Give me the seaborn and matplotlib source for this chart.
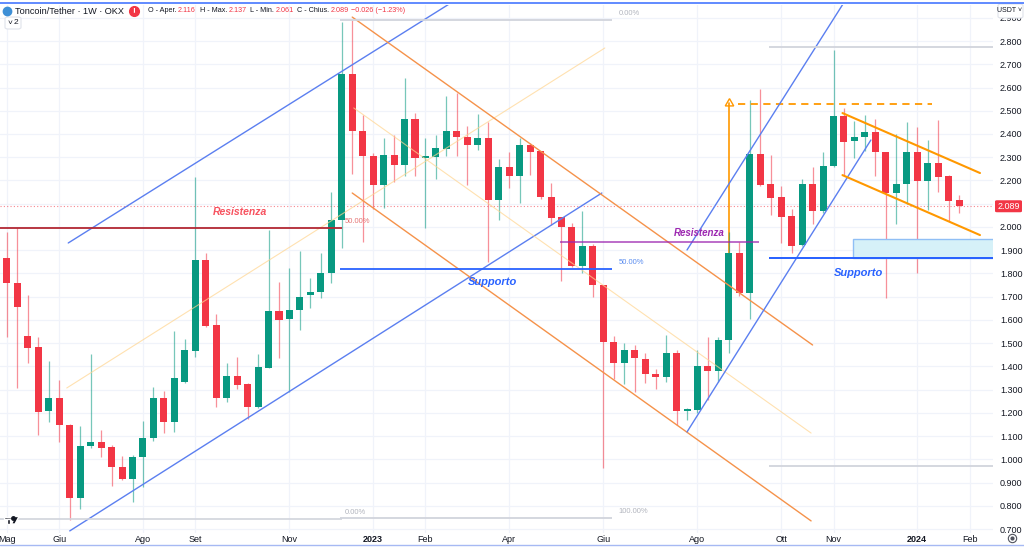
import matplotlib
matplotlib.use("Agg")
import matplotlib.pyplot as plt
import numpy as np
import pandas as pd
import seaborn as sns
from matplotlib.patches import Rectangle, FancyBboxPatch
from matplotlib.lines import Line2D

# candele settimanali TON/USDT (OKX), dal 2 maggio 2022
first_week = "2022-05-02"
opens = [1.866, 1.759, 1.531, 1.483, 1.209, 1.264, 1.148, 0.834, 1.057, 1.075,
         1.053, 0.967, 0.915, 1.010, 1.092, 1.264, 1.161, 1.333, 1.466, 1.858,
         1.578, 1.264, 1.359, 1.324, 1.225, 1.393, 1.638, 1.604, 1.642, 1.707,
         1.720, 1.802, 2.030, 2.658, 2.413, 2.305, 2.180, 2.309, 2.266, 2.464,
         2.297, 2.301, 2.335, 2.413, 2.387, 2.352, 2.383, 2.116, 2.258, 2.219,
         2.352, 2.327, 2.129, 2.043, 2.000, 1.832, 1.918, 1.750, 1.505, 1.414,
         1.470, 1.432, 1.367, 1.354, 1.457, 1.208, 1.212, 1.402, 1.380, 1.513,
         1.888, 1.716, 2.314, 2.185, 2.129, 2.047, 1.922, 2.185, 2.068, 2.262,
         2.477, 2.370, 2.387, 2.408, 2.322, 2.146, 2.185, 2.322, 2.198, 2.275,
         2.219, 2.116]
highs = [1.978, 1.995, 1.707, 1.526, 1.423, 1.341, 1.150, 1.143, 1.453, 1.126,
         1.062, 1.014, 1.019, 1.165, 1.311, 1.294, 1.552, 1.518, 2.215, 1.888,
         1.625, 1.414, 1.440, 1.328, 1.453, 1.987, 1.763, 1.823, 1.896, 1.780,
         1.888, 2.150, 2.880, 2.890, 2.482, 2.318, 2.383, 2.396, 2.641, 2.490,
         2.383, 2.396, 2.563, 2.576, 2.434, 2.486, 2.451, 2.292, 2.322, 2.383,
         2.361, 2.327, 2.189, 2.043, 2.017, 2.068, 1.927, 1.750, 1.531, 1.500,
         1.492, 1.457, 1.389, 1.535, 1.470, 1.221, 1.470, 1.526, 1.526, 1.978,
         1.935, 2.546, 2.593, 2.309, 2.176, 2.077, 2.206, 2.258, 2.322, 2.761,
         2.512, 2.456, 2.482, 2.464, 2.322, 2.400, 2.451, 2.430, 2.374, 2.460,
         2.223, 2.137]
lows = [1.526, 1.307, 1.414, 1.105, 1.161, 1.075, 0.739, 0.786, 1.049, 1.010,
        0.885, 0.911, 0.816, 0.881, 1.079, 1.113, 1.118, 1.330, 1.440, 1.569,
        1.225, 1.247, 1.303, 1.174, 1.221, 1.393, 1.436, 1.290, 1.556, 1.651,
        1.694, 1.759, 1.909, 2.228, 1.935, 2.077, 2.081, 2.193, 2.219, 2.219,
        1.995, 2.206, 2.305, 2.305, 2.180, 2.331, 1.849, 2.030, 2.167, 2.103,
        2.223, 2.120, 2.008, 1.767, 1.828, 1.802, 1.698, 0.963, 1.346, 1.324,
        1.290, 1.328, 1.303, 1.333, 1.148, 1.169, 1.199, 1.255, 1.333, 1.457,
        1.703, 1.604, 2.176, 2.051, 1.931, 1.888, 1.918, 2.013, 2.060, 2.258,
        2.219, 2.297, 2.327, 2.219, 1.694, 2.013, 2.099, 1.802, 2.073, 2.150,
        2.025, 2.061]
closes = [1.759, 1.655, 1.479, 1.204, 1.264, 1.148, 0.834, 1.057, 1.075, 1.049,
          0.967, 0.915, 1.010, 1.092, 1.264, 1.161, 1.350, 1.470, 1.858, 1.574,
          1.264, 1.359, 1.320, 1.225, 1.397, 1.638, 1.599, 1.642, 1.698, 1.720,
          1.802, 2.030, 2.658, 2.413, 2.305, 2.180, 2.309, 2.266, 2.464, 2.297,
          2.305, 2.340, 2.413, 2.387, 2.352, 2.383, 2.116, 2.258, 2.219, 2.352,
          2.322, 2.129, 2.038, 2.000, 1.832, 1.918, 1.750, 1.505, 1.414, 1.470,
          1.436, 1.367, 1.354, 1.457, 1.208, 1.217, 1.402, 1.380, 1.513, 1.888,
          1.716, 2.314, 2.180, 2.124, 2.043, 1.918, 2.185, 2.068, 2.262, 2.477,
          2.365, 2.387, 2.408, 2.322, 2.146, 2.185, 2.322, 2.198, 2.275, 2.215,
          2.112, 2.089]
last_price = 2.089

# asse prezzi e mesi
price_ticks = [0.7, 0.8, 0.9, 1.0, 1.1, 1.2, 1.3, 1.4, 1.5, 1.6, 1.7, 1.8,
               1.9, 2.0, 2.1, 2.2, 2.3, 2.4, 2.5, 2.6, 2.7, 2.8, 2.9]
month_dates = ["2022-05-02", "2022-06-06", "2022-08-01", "2022-09-05", "2022-11-07",
               "2023-01-02", "2023-02-06", "2023-04-03", "2023-06-05", "2023-08-07",
               "2023-10-02", "2023-11-06", "2024-01-01", "2024-02-05"]
month_labels = ["Mag", "Giu", "Ago", "Set", "Nov", "2023", "Feb", "Apr", "Giu",
                "Ago", "Ott", "Nov", "2024", "Feb"]

# trendline (data, prezzo)
blue_up_dates, blue_up_prices = ["2022-06-12", "2023-02-26"], [1.931, 2.976]
blue_dn_dates, blue_dn_prices = ["2022-06-13", "2023-06-04"], [0.692, 2.146]
blue_mid_dates, blue_mid_prices = ["2022-06-11", "2023-06-06"], [1.307, 2.770]
orng_up_dates, orng_up_prices = ["2022-12-19", "2023-10-23"], [2.903, 1.492]
orng_dn_dates, orng_dn_prices = ["2022-12-19", "2023-10-22"], [2.146, 0.735]
orng_mid_dates, orng_mid_prices = ["2022-12-20", "2023-10-22"], [2.512, 1.113]
blue2_up_dates, blue2_up_prices = ["2023-07-31", "2023-11-14"], [1.901, 2.976]
blue2_dn_dates, blue2_dn_prices = ["2023-07-31", "2023-12-01"], [1.118, 2.374]
flag_up_dates, flag_up_prices = ["2023-11-12", "2024-02-12"], [2.490, 2.232]
flag_dn_dates, flag_dn_prices = ["2023-11-12", "2024-02-12"], [2.223, 1.965]

# livelli orizzontali
left_fib_end = "2022-12-12"
left_resist = 1.995
left_fib_zero = 0.743
mid_fib_span = ["2022-12-11", "2023-06-11"]
mid_fib_levels = [2.890, 1.819, 0.748]
mid_resist_span = ["2023-05-07", "2023-09-17"]
mid_resist = 1.935
right_fib_start = "2023-09-24"
right_fib_levels = [2.774, 1.866, 0.971]
zone_start = "2023-11-19"
zone_prices = [1.866, 1.948]
target_date = "2023-08-28"
target_from, target_to = 1.888, 2.533
target_span = ["2023-09-03", "2024-01-11"]

# intestazione OHLC
ohlc_labels = ["O - Aper.", "H - Max.", "L - Min.", "C - Chius."]
ohlc_values = ["2.116", "2.137", "2.061", "2.089"]
change_text = "\u22120.026 (\u22121.23%)"

GREEN = "#089981"
RED = "#f23645"
W, H = 1024, 547
YMIN, YMAX = 0.683, 2.955

df = pd.DataFrame({"open": opens, "high": highs, "low": lows, "close": closes})
df["date"] = pd.date_range(first_week, periods=len(df), freq="7D")
df["up"] = df["close"] >= df["open"]
df["color"] = np.where(df["up"], GREEN, RED)
df["bottom"] = df[["open", "close"]].min(axis=1)
df["body"] = (df["close"] - df["open"]).abs().clip(lower=0.005)

sns.set_theme(style="white")
plt.rcParams["font.family"] = ["Liberation Sans", "DejaVu Sans"]

fig = plt.figure(figsize=(W / 100, H / 100), dpi=100)
ax = fig.add_axes([0, 14 / H, 993 / W, 528 / H])

xmin = pd.Timestamp("2022-04-27 08:00")
xmax = pd.Timestamp("2024-02-20 17:00")
ax.set_xlim(xmin, xmax)
ax.set_ylim(YMIN, YMAX)

# griglia
for d in month_dates:
    ax.axvline(pd.Timestamp(d), color="#f0f3fa", lw=0.9, zorder=0)
for p in price_ticks:
    ax.axhline(p, color="#f0f3fa", lw=0.9, zorder=0)

# candele
ax.vlines(df["date"], df["low"], df["high"], colors=df["color"], lw=0.9,
          alpha=0.55, zorder=2)
ax.bar(df["date"], df["body"], bottom=df["bottom"], width=4.7,
       color=df["color"], lw=0, zorder=3)

# freccia target (dietro le candele)
ax.plot([pd.Timestamp(target_date)] * 2, [target_from, target_to],
        color="#ff9800", lw=1.2, zorder=1)
ax.plot(pd.Timestamp(target_date), target_to, marker=(3, 0, 0), ms=7,
        mfc="none", mec="#ff9800", mew=1.0, zorder=1)
ax.plot(pd.to_datetime(target_span), [target_to - 0.004] * 2,
        color="#ff9800", lw=1.3, ls=(0, (4, 3)), zorder=4)


def trend(dates, prices, color, lw=1.0, alpha=1.0):
    sns.lineplot(x=pd.to_datetime(dates), y=prices, ax=ax, color=color,
                 lw=lw, alpha=alpha, zorder=4)


trend(blue_up_dates, blue_up_prices, "#5b7ff0")
trend(blue_dn_dates, blue_dn_prices, "#5b7ff0")
trend(blue_mid_dates, blue_mid_prices, "#ffd58f", lw=0.8, alpha=0.7)
trend(orng_up_dates, orng_up_prices, "#f5924a")
trend(orng_dn_dates, orng_dn_prices, "#f5924a")
trend(orng_mid_dates, orng_mid_prices, "#ffd58f", lw=0.8, alpha=0.7)
trend(blue2_up_dates, blue2_up_prices, "#5b7ff0")
trend(blue2_dn_dates, blue2_dn_prices, "#5b7ff0")
trend(flag_up_dates, flag_up_prices, "#ff9800", lw=1.5)
trend(flag_dn_dates, flag_dn_prices, "#ff9800", lw=1.5)

# livelli a sinistra
ax.hlines(left_resist, xmin, pd.Timestamp(left_fib_end), color="#b22833", lw=1.3, zorder=4)
ax.hlines(left_fib_zero, xmin, pd.Timestamp(left_fib_end), color="#d1d4dc", lw=1.2, zorder=4)
ax.text(pd.Timestamp(left_fib_end) + pd.Timedelta(days=2), left_resist + 0.012, "50.00%",
        color="#e57373", fontsize=5.5, ha="left", va="bottom", zorder=5)
ax.text(pd.Timestamp(left_fib_end) + pd.Timedelta(days=2), left_fib_zero + 0.012, "0.00%",
        color="#b2b5be", fontsize=5.5, ha="left", va="bottom", zorder=5)
ax.text(pd.Timestamp("2022-10-05"), 2.064, "Resistenza", color="#f7525f",
        fontsize=7.5, style="italic", weight="bold", ha="center", va="center", zorder=5)

# fib centrale
s0, s1 = pd.to_datetime(mid_fib_span)
fib_cols = ["#d1d4dc", "#2962ff", "#d1d4dc"]
fib_txt = ["0.00%", "50.00%", "100.00%"]
fib_tcol = ["#b2b5be", "#5b8def", "#b2b5be"]
for lvl, c, t, tc in zip(mid_fib_levels, fib_cols, fib_txt, fib_tcol):
    ax.hlines(lvl, s0, s1, color=c, lw=1.3, zorder=4)
    ax.text(s1 + pd.Timedelta(days=4), lvl + 0.012, t, color=tc, fontsize=5.5,
            ha="left", va="bottom", zorder=5)
ax.text(pd.Timestamp("2023-03-23"), 1.763, "Supporto", color="#2962ff",
        fontsize=8, style="italic", weight="bold", ha="center", va="center", zorder=5)

# resistenza viola
r0, r1 = pd.to_datetime(mid_resist_span)
ax.hlines(mid_resist, r0, r1, color="#9c27b0", lw=1.2, alpha=0.8, zorder=4)
ax.text(pd.Timestamp("2023-08-08"), 1.974, "Resistenza", color="#9c27b0",
        fontsize=7, style="italic", weight="bold", ha="center", va="center", zorder=5)

# fib a destra + zona
rf0 = pd.Timestamp(right_fib_start)
for lvl, c in zip(right_fib_levels, fib_cols):
    ax.hlines(lvl, rf0, xmax, color=c, lw=1.3, zorder=4)
z0 = pd.Timestamp(zone_start)
ax.add_patch(Rectangle((z0, zone_prices[0]), xmax - z0 + pd.Timedelta(days=5),
                       zone_prices[1] - zone_prices[0], facecolor="#d6f1f8",
                       edgecolor="#90bff5", lw=1.0, zorder=3))
ax.hlines(right_fib_levels[1], rf0, xmax, color="#2962ff", lw=1.3, zorder=4)
ax.text(pd.Timestamp("2023-11-23"), 1.802, "Supporto", color="#2962ff",
        fontsize=8, style="italic", weight="bold", ha="center", va="center", zorder=5)

# prezzo corrente
ax.axhline(last_price, color=RED, lw=0.8, ls=(0, (1, 2)), alpha=0.6, zorder=1)

# assi (l'etichetta 2.100 resta coperta dal cartellino del prezzo)
for sp in ax.spines.values():
    sp.set_visible(False)
ax.set_xlabel("")
ax.set_ylabel("")
ax.yaxis.tick_right()
ax.set_yticks(price_ticks)
ax.set_yticklabels(["" if abs(p - last_price) < 0.03 else f"{p:.3f}" for p in price_ticks])
ax.set_xticks(pd.to_datetime(month_dates))
ax.set_xticklabels(month_labels)
ax.tick_params(axis="y", length=0, pad=5, labelsize=6.5, labelcolor="#131722")
ax.tick_params(axis="x", length=0, pad=1.5, labelsize=6.5, labelcolor="#131722")
for lab in ax.get_xticklabels():
    if lab.get_text() in ("2023", "2024"):
        lab.set_fontweight("bold")
    lab.set_clip_on(False)


def px(x, y):
    return x / W, 1 - y / H


def dot(x, y, ms, **kw):
    fig.add_artist(Line2D([x / W], [1 - y / H], marker="o", ms=ms, ls="none",
                          transform=fig.transFigure, **kw))


# etichetta prezzo
tag_y = (14 + 528 * (last_price - YMIN) / (YMAX - YMIN)) / H
fig.patches.append(FancyBboxPatch((995 / W, tag_y - 6 / H), 27 / W, 12 / H,
                                  boxstyle="round,pad=0,rounding_size=0.002",
                                  transform=fig.transFigure, facecolor=RED,
                                  edgecolor="none", zorder=5))
fig.text(1008.5 / W, tag_y, f"{last_price:.3f}", color="white", fontsize=6.5,
         ha="center", va="center", zorder=6)

# intestazione
dot(7, 11, 6, color="#3d8fd6")
fig.text(*px(15, 11), "Toncoin/Tether \u00b7 1W \u00b7 OKX", fontsize=6.6,
         color="#131722", va="center", ha="left")
dot(134, 11, 7, color=RED)
fig.text(*px(134, 11.5), "!", fontsize=6, color="white", weight="bold",
         ha="center", va="center")

renderer = fig.canvas.get_renderer()
xcur = 148
for lab, val in zip(ohlc_labels, ohlc_values):
    t = fig.text(*px(xcur, 11), lab, fontsize=5.2, color="#131722", va="center", ha="left")
    xcur = t.get_window_extent(renderer).x1 + 1.5
    t = fig.text(*px(xcur, 11), val, fontsize=5.2, color=RED, va="center", ha="left")
    xcur = t.get_window_extent(renderer).x1 + 3.5
fig.text(*px(xcur - 1.5, 11), change_text, fontsize=5.2, color=RED, va="center", ha="left")

fig.patches.append(FancyBboxPatch(px(5, 29), 16 / W, 12 / H,
                                  boxstyle="round,pad=0,rounding_size=0.003",
                                  transform=fig.transFigure, facecolor="white",
                                  edgecolor="#e0e3eb", lw=0.8))
fig.text(*px(10, 23), "\u02c5", fontsize=6, color="#131722", ha="center", va="center")
fig.text(*px(16, 23), "2", fontsize=6, color="#131722", ha="center", va="center")

# selettore valuta
fig.patches.append(FancyBboxPatch(px(998, 18), 25 / W, 14 / H,
                                  boxstyle="round,pad=0,rounding_size=0.003",
                                  transform=fig.transFigure, facecolor="white",
                                  edgecolor="#e0e3eb", lw=0.8))
fig.text(*px(1010, 11), "USDT \u02c5", fontsize=5, color="#131722",
         ha="center", va="center")

# bordo blu e icone
fig.add_artist(Line2D([0, 1], [1 - 3 / H] * 2, color="#2962ff", lw=1.3, alpha=0.8))
fig.add_artist(Line2D([0, 1], [1 - 545 / H] * 2, color="#90a8f0", lw=1.0, alpha=0.8))
dot(1012, 538, 6, mfc="none", mec="#50535e", mew=0.8)
dot(1012, 538, 2, color="#50535e")
fig.patches.append(Rectangle(px(4, 519), 7 / W, 2.5 / H, transform=fig.transFigure,
                             facecolor="#131722"))
fig.patches.append(Rectangle(px(7, 524), 2.5 / W, 5 / H, transform=fig.transFigure,
                             facecolor="#131722"))
dot(13, 518, 2.5, color="#131722")
fig.patches.append(plt.Polygon([px(15, 516.5), px(19, 516.5), px(15, 524), px(11.5, 524)],
                               closed=True, transform=fig.transFigure, facecolor="#131722"))

fig.savefig("out.png", dpi=100)
